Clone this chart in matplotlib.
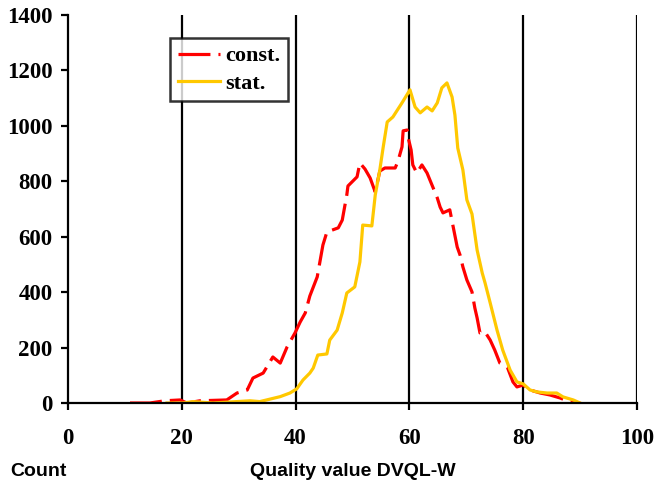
import matplotlib
matplotlib.use("Agg")
import matplotlib.pyplot as plt

# ---- data ----
const_x = [10.9, 14.4, 17.0, 19.7, 20.9, 23.2, 27.9, 29.7, 31.5, 32.5, 34.3, 36.0, 37.3, 38.5,
           39.9, 40.8, 41.7, 42.5, 43.8, 44.8, 45.5, 47.5, 48.2, 49.0, 49.2, 50.8, 51.3, 52.2,
           53.1, 54.0, 54.8, 55.7, 57.5, 58.0, 58.7, 58.9, 59.6, 59.8, 60.3, 60.6, 61.3, 62.2,
           63.1, 64.1, 64.9, 65.4, 65.9, 67.1, 67.7, 68.4, 68.9, 69.4, 70.1, 71.0, 71.5, 71.9,
           72.4, 73.3, 74.2, 75.0, 75.9, 77.2, 78.2, 78.9, 80.0, 81.2, 83.0, 84.7, 86.5, 88.2, 90.0]
const_y = [0, 0, 8, 11, 0, 8, 11, 36, 47, 90, 108, 166, 144, 202,
           253, 292, 325, 386, 455, 570, 617, 632, 660, 751, 783, 816, 866, 844,
           812, 761, 837, 848, 848, 873, 924, 982, 985, 956, 913, 859, 830, 859,
           830, 780, 740, 707, 686, 697, 635, 563, 534, 491, 444, 401, 343, 307,
           253, 256, 227, 191, 144, 130, 76, 58, 65, 47, 36, 29, 18, 4, 0]

stat_x = [17.4, 20.2, 22.0, 25.5, 32.0, 33.7, 37.3, 39.0, 40.2, 41.3, 42.5, 43.1, 43.9, 45.5,
          46.0, 47.3, 48.2, 49.0, 50.4, 51.3, 51.8, 53.4, 54.0, 54.8, 55.4, 56.1, 57.1, 58.7,
          60.1, 61.0, 61.9, 63.1, 64.0, 64.9, 65.7, 66.6, 67.5, 68.0, 68.5, 69.4, 70.1, 71.0,
          71.9, 72.8, 73.3, 74.2, 75.4, 76.4, 77.7, 78.9, 80.0, 81.2, 82.4, 84.2, 85.9, 87.0,
          88.8, 90.0]
stat_y = [0, 0, 5, 0, 8, 5, 23, 36, 51, 83, 108, 126, 173, 177,
          227, 263, 325, 397, 419, 509, 642, 639, 751, 841, 924, 1014, 1032, 1083,
          1130, 1068, 1047, 1068, 1054, 1083, 1137, 1155, 1104, 1039, 920, 841, 733, 682,
          552, 469, 433, 361, 263, 191, 119, 76, 69, 47, 40, 36, 36, 22,
          11, 0]

series_labels = ["const.", "stat."]
x_ticks = [0, 20, 40, 60, 80, 100]
y_ticks = [0, 200, 400, 600, 800, 1000, 1200, 1400]
x_caption = "Quality value DVQL-W"
y_caption = "Count"

# ---- figure ----
W, H = 654, 487
fig = plt.figure(figsize=(W / 100, H / 100), dpi=100)
ax = fig.add_axes([68 / W, 1 - 403 / H, (637 - 68) / W, (403 - 15) / H])

serif_bold = dict(family="Liberation Serif", weight="bold", size=16.5)

ax.plot(const_x, const_y, color="#FF0000", lw=2.3, linestyle=(0, (10, 2.5)),
        solid_joinstyle="miter", label=series_labels[0], zorder=3)
ax.plot(stat_x, stat_y, color="#FFC800", lw=2.3, label=series_labels[1], zorder=3)

ax.set_xlim(0, 100)
ax.set_ylim(0, 1400)
ax.set_xticks(x_ticks)
ax.set_yticks(y_ticks)
ax.set_xticklabels([str(v) for v in x_ticks], fontdict=serif_bold)
ax.set_yticklabels([str(v) for v in y_ticks], fontdict=serif_bold)

for v in x_ticks[1:]:
    ax.axvline(v, color="black", lw=1.6, zorder=1)

for s in ["top", "right"]:
    ax.spines[s].set_visible(False)
ax.spines["left"].set_linewidth(1.6)
ax.spines["bottom"].set_linewidth(1.6)
ax.spines["left"].set_zorder(4)
ax.spines["bottom"].set_zorder(4)

ax.tick_params(axis="x", direction="out", length=5, width=1.6, pad=13)
ax.tick_params(axis="y", direction="out", length=5, width=1.6, pad=6)

leg = ax.legend(loc="upper left", bbox_to_anchor=((170 - 68) / 569, (403 - 38) / 388),
                borderaxespad=0, frameon=True, fancybox=False, handlelength=1.9,
                handletextpad=0.25, borderpad=0.35, labelspacing=0.3,
                prop=dict(family="Liberation Serif", weight="bold", size=16))
leg.get_frame().set_edgecolor("black")
leg.get_frame().set_linewidth(1.8)

fig.text(10 / W, 1 - 472 / H, y_caption, family="Liberation Sans", weight="bold",
         size=14, ha="left", va="center")
fig.text(250 / W, 1 - 472 / H, x_caption, family="Liberation Sans", weight="bold",
         size=14, ha="left", va="center")

fig.savefig("out.png", dpi=100)
